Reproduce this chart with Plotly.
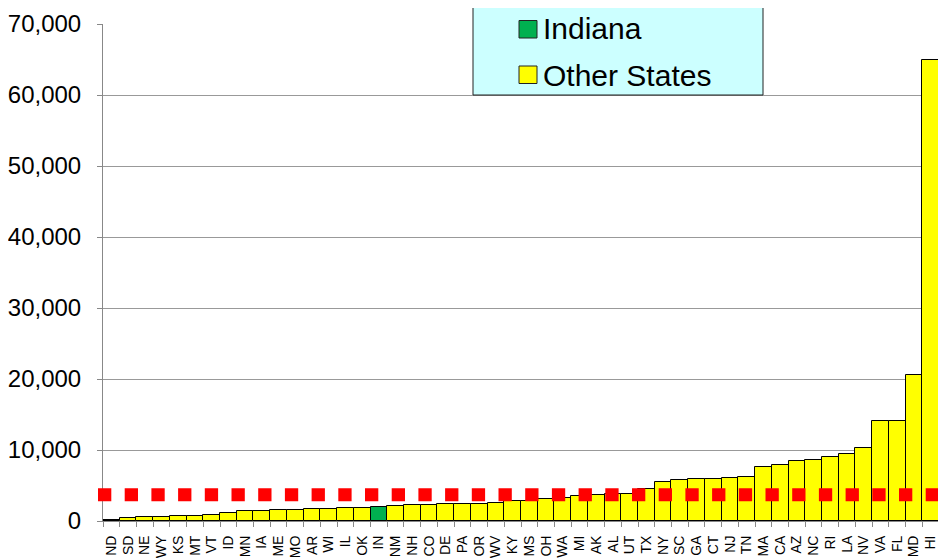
import plotly.graph_objects as go

states = ["ND", "SD", "NE", "WY", "KS", "MT", "VT", "ID", "MN", "IA",
          "ME", "MO", "AR", "WI", "IL", "OK", "IN", "NM", "NH", "CO",
          "DE", "PA", "OR", "WV", "KY", "MS", "OH", "WA", "MI", "AK",
          "AL", "UT", "TX", "NY", "SC", "GA", "CT", "NJ", "TN", "MA",
          "CA", "AZ", "NC", "RI", "LA", "NV", "VA", "FL", "MD", "HI"]
values = [200, 400, 560, 620, 680, 760, 850, 1100, 1380, 1420,
          1520, 1600, 1660, 1750, 1800, 1890, 1980, 2120, 2220, 2250,
          2360, 2370, 2400, 2600, 2820, 2840, 3060, 3290, 3480, 3620,
          3760, 3800, 4470, 5530, 5780, 5870, 5880, 6010, 6150, 7570,
          7890, 8450, 8590, 8970, 9400, 10240, 14050, 14050, 20600, 64900]
highlight_state = "IN"
average_value = 3700
y_ticks = [0, 10000, 20000, 30000, 40000, 50000, 60000, 70000]
legend_labels = ["Indiana", "Other States"]

GREEN = "#00B050"
YELLOW = "#FFFF00"
colors = [GREEN if s == highlight_state else YELLOW for s in states]

# page body has an 8px margin; figure is placed at (8, 8)
OFF = 8
W, H = 946, 558
ML, MT = 103 - OFF, 24 - OFF
MR = W - (939 - OFF)
MB = H - (521 - OFF)
PW, PH = W - ML - MR, H - MT - MB


def px_x(x):
    return (x - OFF - ML) / PW


def px_y(y):
    return (H - MB - (y - OFF)) / PH


fig = go.Figure()
fig.add_trace(go.Bar(
    x=states, y=values,
    marker=dict(color=colors, line=dict(color="black", width=1)),
    showlegend=False,
))

shapes = [
    dict(type="line", xref="paper", yref="y",
         x0=px_x(98), x1=px_x(939), y0=average_value, y1=average_value,
         line=dict(color="#FF0000", width=13, dash="13.3px,13.4px"),
         layer="above"),
    # legend box
    dict(type="rect", xref="paper", yref="paper",
         x0=px_x(473), x1=px_x(763), y0=px_y(95), y1=px_y(7),
         fillcolor="#CCFFFF", line=dict(color="#222222", width=1), layer="above"),
    dict(type="rect", xref="paper", yref="paper",
         x0=px_x(519), x1=px_x(537), y0=px_y(38), y1=px_y(20.5),
         fillcolor=GREEN, line=dict(color="#222222", width=1), layer="above"),
    dict(type="rect", xref="paper", yref="paper",
         x0=px_x(519), x1=px_x(537), y0=px_y(83.5), y1=px_y(66),
         fillcolor=YELLOW, line=dict(color="#222222", width=1), layer="above"),
]

annotations = [
    dict(text=legend_labels[0], xref="paper", yref="paper",
         x=px_x(541), y=px_y(29), xanchor="left", yanchor="middle",
         showarrow=False, font=dict(size=30, color="black")),
    dict(text=legend_labels[1], xref="paper", yref="paper",
         x=px_x(541), y=px_y(75), xanchor="left", yanchor="middle",
         showarrow=False, font=dict(size=30, color="black")),
]

fig.update_layout(
    width=W, height=H,
    margin=dict(l=ML, r=MR, t=MT, b=MB, pad=0),
    paper_bgcolor="white", plot_bgcolor="white",
    font=dict(family="Liberation Sans, Arial, sans-serif", color="black"),
    bargap=0,
    shapes=shapes,
    annotations=annotations,
    showlegend=False,
    xaxis=dict(
        tickmode="linear", dtick=1,
        tickangle=-90, tickfont=dict(size=14, color="black"),
        ticks="outside", tickson="boundaries", ticklen=5, tickcolor="#888888",
        ticklabelstandoff=8,
        showline=True, linecolor="#888888", linewidth=1,
        showgrid=False, automargin=False, fixedrange=True,
    ),
    yaxis=dict(
        range=[0, 70000], tickvals=y_ticks, tickformat=",",
        tickfont=dict(size=24, color="black"),
        ticks="outside", ticklen=5, tickcolor="#888888",
        ticklabelstandoff=11,
        showline=True, linecolor="#888888", linewidth=1,
        showgrid=True, gridcolor="#999999", gridwidth=1,
        zeroline=False, automargin=False,
    ),
)

fig.write_html("out.html")
